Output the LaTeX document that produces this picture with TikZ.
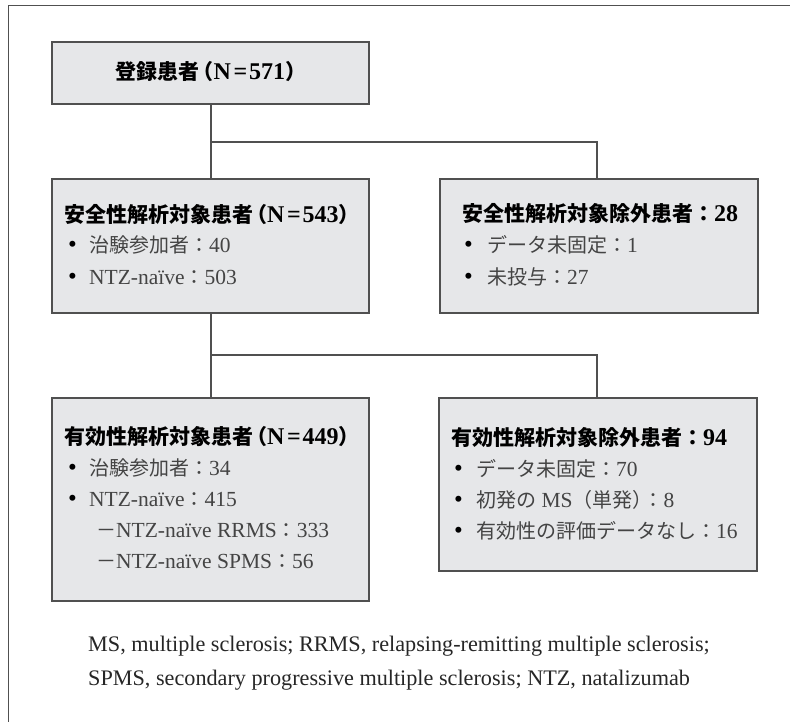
\documentclass[tikz,border=0pt]{standalone}
\usepackage{fontspec}
\setmainfont{Liberation Serif}
\newfontfamily\jp{Noto Sans CJK JP}
\definecolor{boxfill}{HTML}{E6E7E9}
\definecolor{boxline}{HTML}{505050}
\definecolor{itemtext}{HTML}{444444}
% CJK text in titles and in items
\newcommand{\JT}[1]{{\fontsize{21}{25}\selectfont\jp #1}}
\newcommand{\JI}[1]{{\fontsize{20}{24}\selectfont\jp #1}}
\newcommand{\LP}{\hspace{-7pt}\JT{（}}
\newcommand{\RP}{\JT{）}}
\newcommand{\EQ}{\kern2.5pt=\kern2pt}
\newcommand{\bl}[1]{\makebox[#1][l]{\color{black}\fontsize{25}{25}\selectfont•}}
\begin{document}
\begin{tikzpicture}[x=1pt,y=-1pt,
  box/.style={draw=boxline, fill=boxfill, line width=1.1pt, inner sep=0pt, rectangle},
  conn/.style={draw=boxline, line width=1.1pt},
  ttl/.style={anchor=base west, inner sep=0pt, font=\fontsize{24}{28}\selectfont\bfseries},
  itm/.style={anchor=base west, inner sep=0pt, font=\fontsize{21.5}{25}\selectfont, text=itemtext},
  note/.style={anchor=base west, inner sep=0pt, font=\fontsize{22.2}{26}\selectfont, text=black!85},
]
\useasboundingbox (0,0) rectangle (790,722);
\fill[white] (0,0) rectangle (790,722);
\draw[draw=boxline, line width=1.4pt] (790,5.5) -- (8.5,5.5) -- (8.5,722);

% boxes
\node[box, minimum width=317pt, minimum height=62pt] (reg) at (210.5,73) {};
\node[box, minimum width=317pt, minimum height=134pt] (saf) at (210.5,246) {};
\node[box, minimum width=318pt, minimum height=134pt] (safx) at (599,246) {};
\node[box, minimum width=317pt, minimum height=203pt] (eff) at (210.5,499.5) {};
\node[box, minimum width=318pt, minimum height=173pt] (effx) at (598,484.5) {};

% connectors
\coordinate (j1) at (211,142);
\coordinate (j1r) at (597,142);
\coordinate (j2) at (211,355);
\coordinate (j2r) at (597,355);
\draw[conn] (reg.south -| j1) -- (saf.north -| j1);
\draw[conn] (j1) -- (j1r) -- (safx.north -| j1r);
\draw[conn] (saf.south -| j2) -- (eff.north -| j2);
\draw[conn] (j2) -- (j2r) -- (effx.north -| j2r);

% top box
\node[ttl, anchor=base] (regt) at (211,80) {\JT{登録患者}\LP N\EQ 571\RP\hspace{-10pt}};

% safety
\node[ttl] (saft) at (64,223) {\JT{安全性解析対象患者}\LP N\EQ 543\RP};
\node[itm] (saf1) at (68,253) {\bl{21pt}\JI{治験参加者：}40};
\node[itm] (saf2) at (68,284) {\bl{21pt}NTZ-naïve\JI{：}503};

% safety excluded
\node[ttl] (safxt) at (462,222) {\JT{安全性解析対象除外患者：}28};
\node[itm] (safx1) at (464,253) {\bl{23pt}\JI{データ未固定：}1};
\node[itm] (safx2) at (464,284) {\bl{23pt}\JI{未投与：}27};

% efficacy
\node[ttl] (efft) at (64,444) {\JT{有効性解析対象患者}\LP N\EQ 449\RP};
\node[itm] (eff1) at (68,475) {\bl{21pt}\JI{治験参加者：}34};
\node[itm] (eff2) at (68,506) {\bl{21pt}NTZ-naïve\JI{：}415};
\node[itm] (eff3) at (96,537) {\JI{－}NTZ-naïve RRMS\JI{：}333};
\node[itm] (eff4) at (96,568) {\JI{－}NTZ-naïve SPMS\JI{：}56};

% efficacy excluded
\node[ttl] (effxt) at (451,445) {\JT{有効性解析対象除外患者：}94};
\node[itm] (effx1) at (454,476) {\bl{22pt}\JI{データ未固定：}70};
\node[itm] (effx2) at (454,507) {\bl{22pt}\JI{初発の} MS\JI{（単発）}\hspace{-9pt}\JI{：}8};
\node[itm] (effx3) at (454,538) {\bl{22pt}\JI{有効性の評価データなし：}16};

% footnote
\node[note] (fn1) at (88,651) {MS, multiple sclerosis; RRMS, relapsing-remitting multiple sclerosis;};
\node[note] (fn2) at (88,685) {SPMS, secondary progressive multiple sclerosis; NTZ, natalizumab};
\end{tikzpicture}
\end{document}
